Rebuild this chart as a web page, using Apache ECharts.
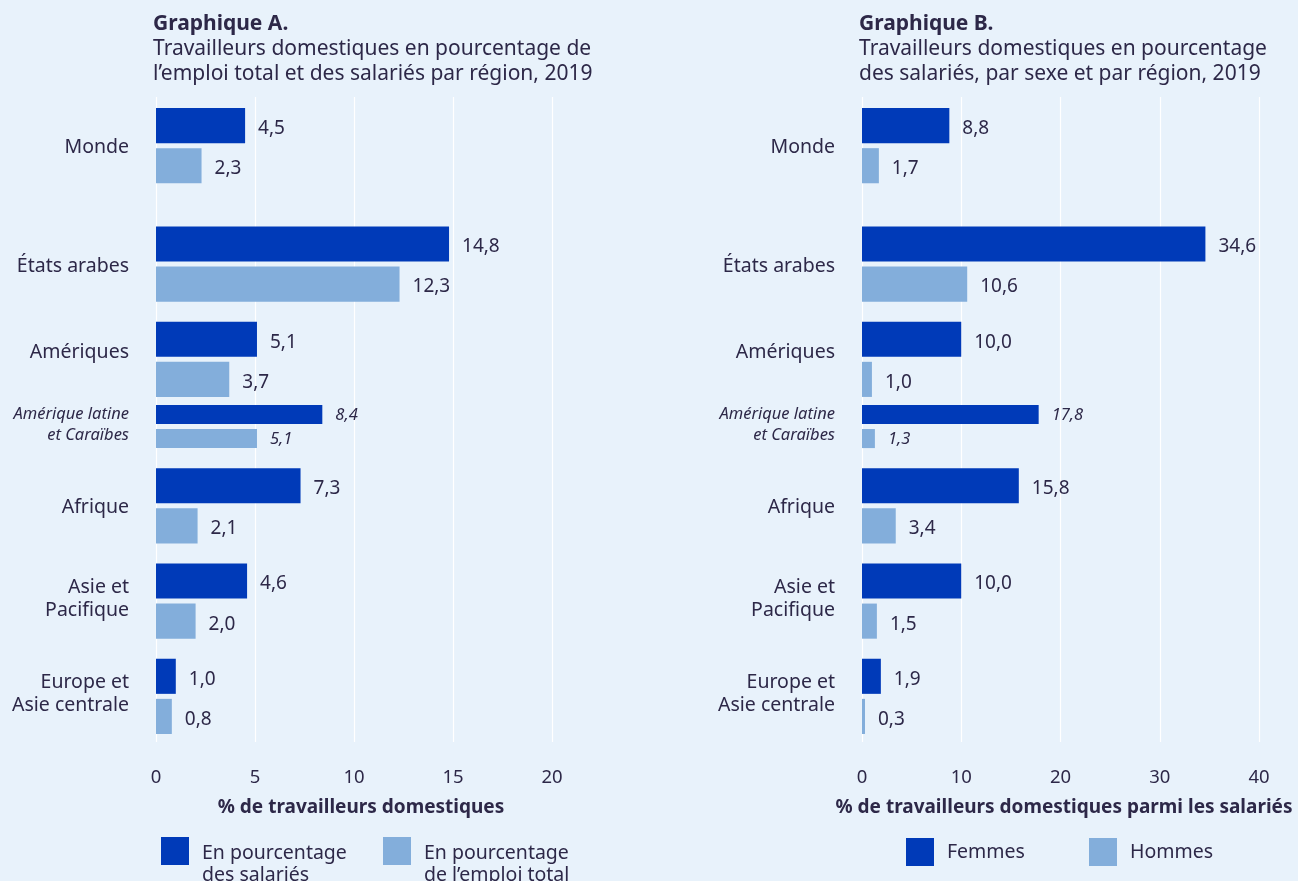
<!DOCTYPE html>
<html>
<head>
<meta charset="utf-8">
<script src="https://cdn.jsdelivr.net/npm/echarts@6/dist/echarts.min.js"></script>
<style>
  html, body { margin: 0; padding: 0; background: #e8f2fb; }
  #chart { width: 1298px; height: 881px; }
</style>
</head>
<body>
<div id="chart"></div>
<script>
// Regions (sub-regions are drawn with thinner bars and italic text)
const regions = ['Monde', 'États arabes', 'Amériques', 'Amérique latine\net Caraïbes', 'Afrique', 'Asie et\nPacifique', 'Europe et\nAsie centrale'];
const isSubRegion = [false, false, false, true, false, false, false];

// Graphique A — domestic workers, % of employees and % of total employment
const pctEmployees = [4.5, 14.8, 5.1, 8.4, 7.3, 4.6, 1.0];
const pctTotalEmployment = [2.3, 12.3, 3.7, 5.1, 2.1, 2.0, 0.8];

// Graphique B — domestic workers as % of employees, by sex
const women = [8.8, 34.6, 10.0, 17.8, 15.8, 10.0, 1.9];
const men = [1.7, 10.6, 1.0, 1.3, 3.4, 1.5, 0.3];

// Axis ticks
const ticksA = [0, 5, 10, 15, 20];
const ticksB = [0, 10, 20, 30, 40];

const TEXT = '#2d2848';
const DARK = '#003ab8';
const LIGHT = '#83aedb';
const FONT = '"Noto Sans", "Open Sans", sans-serif';

// Vertical band layout (in band units, one unit per pixel of plot height)
const MAIN_BAR = 35, SUB_BAR = 19, PAIR_GAP = 5;
const GROUP_GAP = 20, SUB_GAP = 8, AFTER_WORLD_GAP = 43;
const PAD_TOP = 11, PAD_BOTTOM = 8;

const rows = [];
let cursor = PAD_TOP;
regions.forEach((r, i) => {
  if (i > 0) cursor += isSubRegion[i] ? SUB_GAP : (i === 1 ? AFTER_WORLD_GAP : GROUP_GAP);
  const thick = isSubRegion[i] ? SUB_BAR : MAIN_BAR;
  rows.push({ top: cursor, thick: thick });
  cursor += 2 * thick + PAIR_GAP;
});
const bandMax = cursor + PAD_BOTTOM;

const fmt = v => v.toFixed(1).replace('.', ',');

function barRenderer(slot, color) {
  return function (params, api) {
    const i = api.value(0);
    const v = api.value(1);
    const row = rows[i];
    const y0 = row.top + slot * (row.thick + PAIR_GAP);
    const p0 = api.coord([0, y0]);
    const p1 = api.coord([v, y0 + row.thick]);
    const sub = isSubRegion[i];
    return {
      type: 'group',
      children: [
        { type: 'rect', shape: { x: p0[0], y: p0[1], width: p1[0] - p0[0], height: p1[1] - p0[1] }, style: { fill: color } },
        {
          type: 'text', x: p1[0] + 13, y: (p0[1] + p1[1]) / 2 + (sub ? 1 : 3),
          style: {
            text: fmt(v), fill: TEXT, align: 'left', verticalAlign: 'middle',
            font: (sub ? 'italic 16.5px ' : '19px ') + FONT
          }
        }
      ]
    };
  };
}

function labelRenderer(params, api) {
  const i = api.value(0);
  const row = rows[i];
  const mid = row.top + row.thick + PAIR_GAP / 2;
  const p = api.coord([0, mid]);
  const sub = isSubRegion[i];
  const multi = regions[i].indexOf('\n') >= 0;
  // a region followed by its sub-region keeps its label a little higher
  const hasChild = i + 1 < regions.length && isSubRegion[i + 1];
  const dy = hasChild ? -7 : (multi ? -2 : 2);
  return {
    type: 'text', x: p[0] - 27, y: p[1] + dy,
    style: {
      text: regions[i], fill: TEXT, align: 'right', verticalAlign: 'middle',
      font: (sub ? 'italic 16.5px ' : '19.5px ') + FONT,
      lineHeight: sub ? 21 : 23
    }
  };
}

const pairData = arr => arr.map((v, i) => [i, v]);

function axisPair(gridIndex, ticks, name, namePad) {
  return {
    x: {
      type: 'value', gridIndex: gridIndex,
      min: ticks[0], max: ticks[ticks.length - 1], interval: ticks[1] - ticks[0],
      axisLine: { show: false }, axisTick: { show: false },
      splitLine: { show: true, lineStyle: { color: '#ffffff', width: 1.2 } },
      axisLabel: { color: TEXT, fontSize: 18.5, fontFamily: FONT, margin: 26 },
      name: name, nameLocation: 'middle', nameGap: 56,
      nameTextStyle: { color: TEXT, fontSize: 19, fontWeight: 'bold', fontFamily: FONT, padding: [0, 0, 0, namePad] }
    },
    y: {
      type: 'value', gridIndex: gridIndex, inverse: true, min: 0, max: bandMax,
      show: false, splitLine: { show: false }
    }
  };
}

const axA = axisPair(0, ticksA, '% de travailleurs domestiques', 14);
const axB = axisPair(1, ticksB, '% de travailleurs domestiques parmi les salariés', 7);

const nameA1 = 'En pourcentage\ndes salariés';
const nameA2 = 'En pourcentage\nde l’emploi total';
const nameB1 = 'Femmes';
const nameB2 = 'Hommes';

function legendAt(left, name, twoLines) {
  return {
    data: [{ name: name, icon: 'rect' }],
    left: left, top: twoLines ? 824 : 838, padding: 0,
    itemWidth: 28, itemHeight: 28,
    formatter: n => {
      const lines = n.split('\n').map(s => '{t|' + s + '}');
      return (twoLines ? ['{s| }'].concat(lines) : lines).join('\n');
    },
    textStyle: {
      color: TEXT, fontFamily: FONT, fontSize: 19.5,
      rich: {
        t: { color: TEXT, fontFamily: FONT, fontSize: 19.5, lineHeight: 22, padding: [0, 0, 0, 8] },
        s: { fontSize: 10, lineHeight: 26 }
      }
    },
    selectedMode: false
  };
}

function titleText(letter, l1, l2) {
  return '{b|Graphique ' + letter + '.}\n{n|' + l1 + '}\n{n|' + l2 + '}';
}
const titleRich = {
  b: { fontFamily: FONT, fontSize: 21, fontWeight: 'bold', color: TEXT, lineHeight: 25 },
  n: { fontFamily: FONT, fontSize: 21, fontWeight: 'normal', color: TEXT, lineHeight: 25 }
};

const option = {
  backgroundColor: '#e8f2fb',
  animation: false,
  title: [
    {
      left: 153, top: 12, padding: 0,
      text: titleText('A', 'Travailleurs domestiques en pourcentage de', 'l’emploi total et des salariés par région, 2019'),
      textStyle: { fontWeight: 'normal', rich: titleRich }
    },
    {
      left: 859, top: 12, padding: 0,
      text: titleText('B', 'Travailleurs domestiques en pourcentage', 'des salariés, par sexe et par région, 2019'),
      textStyle: { fontWeight: 'normal', rich: titleRich }
    }
  ],
  grid: [
    { left: 156, right: 746, top: 97, bottom: 139 },
    { left: 862, right: 39, top: 97, bottom: 139 }
  ],
  xAxis: [axA.x, axB.x],
  yAxis: [axA.y, axB.y],
  legend: [
    legendAt(161, nameA1, true),
    legendAt(383, nameA2, true),
    legendAt(906, nameB1, false),
    legendAt(1089, nameB2, false)
  ],
  series: [
    { type: 'custom', name: nameA1, xAxisIndex: 0, yAxisIndex: 0, itemStyle: { color: DARK }, renderItem: barRenderer(0, DARK), data: pairData(pctEmployees) },
    { type: 'custom', name: nameA2, xAxisIndex: 0, yAxisIndex: 0, itemStyle: { color: LIGHT }, renderItem: barRenderer(1, LIGHT), data: pairData(pctTotalEmployment) },
    { type: 'custom', name: 'regionsA', xAxisIndex: 0, yAxisIndex: 0, renderItem: labelRenderer, data: regions.map((r, i) => [i, 0]) },
    { type: 'custom', name: nameB1, xAxisIndex: 1, yAxisIndex: 1, itemStyle: { color: DARK }, renderItem: barRenderer(0, DARK), data: pairData(women) },
    { type: 'custom', name: nameB2, xAxisIndex: 1, yAxisIndex: 1, itemStyle: { color: LIGHT }, renderItem: barRenderer(1, LIGHT), data: pairData(men) },
    { type: 'custom', name: 'regionsB', xAxisIndex: 1, yAxisIndex: 1, renderItem: labelRenderer, data: regions.map((r, i) => [i, 0]) }
  ]
};

const chart = echarts.init(document.getElementById('chart'), null, { renderer: 'canvas' });
chart.setOption(option);
</script>
</body>
</html>
